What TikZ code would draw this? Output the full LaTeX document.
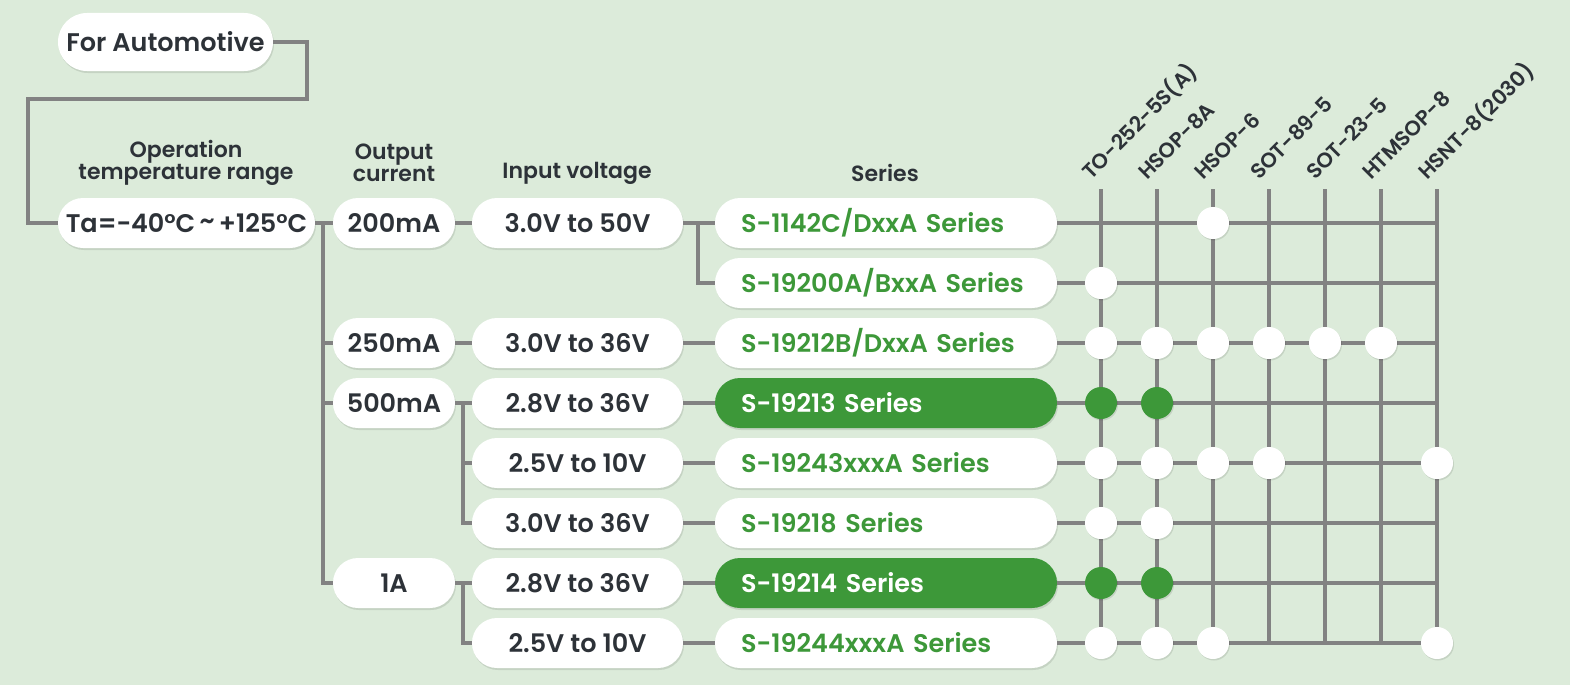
\documentclass[tikz,border=0pt]{standalone}
\usepackage{fontspec}
\setmainfont{Poppins}
\newfontfamily\semib{Poppins SemiBold}
\usetikzlibrary{shadows}
\definecolor{bg}{RGB}{220,235,218}
\definecolor{ln}{RGB}{130,130,130}
\definecolor{gr}{RGB}{61,152,57}
\definecolor{tx}{RGB}{45,50,56}
\tikzset{
  x=1pt,y=-1pt,
  pill/.style={fill=white, draw=none, rounded corners=25pt, minimum height=50pt, inner sep=0pt,
     font=\semib\fontsize{25.5}{28}\selectfont, text=tx,
     drop shadow={shadow xshift=1pt, shadow yshift=-2pt, opacity=0.10, fill=black}},
  serbox/.style={pill, minimum width=342pt, text=gr, align=left, text width=290pt},
  serg/.style={serbox, fill=gr, text=white},
  volt/.style={pill, minimum width=211pt},
  cur/.style={pill, minimum width=122pt},
  conn/.style={draw=ln, line width=3.5pt},
  hdr/.style={font=\semib\fontsize{22}{21}\selectfont, text=tx, align=center, inner sep=0pt},
  pkg/.style={font=\semib\fontsize{21}{22}\selectfont, text=tx, inner sep=0pt, rotate=45, anchor=base west},
  dotw/.style={circle, fill=white, minimum size=32pt, inner sep=0pt,
     drop shadow={shadow xshift=1pt, shadow yshift=-1.5pt, opacity=0.10, fill=black}},
  dotg/.style={dotw, fill=gr},
}
\begin{document}
\begin{tikzpicture}
\fill[bg] (0,0) rectangle (1570,685);
\useasboundingbox (0,0) rectangle (1570,685);

% headers
\node[hdr] (h1) at (186,163) {Operation\\temperature range};
\node[hdr] (h2) at (394,163) {Output\\current};
\node[hdr] (h3) at (577,173) {Input voltage};
\node[hdr] (h4) at (885,173) {Series};

% package labels
\foreach \i/\t in {0/TO-252-5S(A),1/HSOP-8A,2/HSOP-6,3/SOT-89-5,4/SOT-23-5,5/HTMSOP-8,6/HSNT-8(2030)}{
  \node[pkg] (p\i) at ({1091+56*\i},181) {\t};
}

% grid columns
\foreach \i in {0,...,6}{
  \coordinate (ct\i) at ({1101+56*\i},189);
  \coordinate (cb\i) at ({1101+56*\i},643);
  \draw[conn] (ct\i) -- (cb\i);
}

% boxes
\node[pill, minimum width=215pt, minimum height=58pt, rounded corners=29pt] (auto) at (165.5,42) {For Automotive};
\node[pill, minimum width=257pt] (ta) at (186.5,223) {Ta=−40°C\,\raisebox{0.12em}{\textasciitilde}\,+125°C};

\node[cur] (c1) at (394,223) {200mA};
\node[cur] (c2) at (394,343) {250mA};
\node[cur] (c3) at (394,403) {500mA};
\node[cur] (c4) at (394,583) {1A};

\node[volt] (v1) at (577.5,223) {3.0V to 50V};
\node[volt] (v3) at (577.5,343) {3.0V to 36V};
\node[volt] (v4) at (577.5,403) {2.8V to 36V};
\node[volt] (v5) at (577.5,463) {2.5V to 10V};
\node[volt] (v6) at (577.5,523) {3.0V to 36V};
\node[volt] (v7) at (577.5,583) {2.8V to 36V};
\node[volt] (v8) at (577.5,643) {2.5V to 10V};

\node[serbox] (s1) at (886,223) {S-1142C/DxxA Series};
\node[serbox] (s2) at (886,283) {S-19200A/BxxA Series};
\node[serbox] (s3) at (886,343) {S-19212B/DxxA Series};
\node[serg]   (s4) at (886,403) {S-19213 Series};
\node[serbox] (s5) at (886,463) {S-19243xxxA Series};
\node[serbox] (s6) at (886,523) {S-19218 Series};
\node[serg]   (s7) at (886,583) {S-19214 Series};
\node[serbox] (s8) at (886,643) {S-19244xxxA Series};

% connectors
\coordinate (ka) at (307,42);
\coordinate (kb) at (28,99);
\draw[conn] (auto.east) -- (ka) |- (kb) |- (ta.west);
\draw[conn] (ta.east) -- (c1.west);
\coordinate (b1) at (323,223);
\draw[conn] (b1) |- (c2.west);
\draw[conn] (b1) |- (c3.west);
\draw[conn] (b1) |- (c4.west);
\draw[conn] (c1.east) -- (v1.west);
\draw[conn] (c2.east) -- (v3.west);
\draw[conn] (c3.east) -- (v4.west);
\draw[conn] (c4.east) -- (v7.west);
\coordinate (b2) at (463,403);
\draw[conn] (b2) |- (v5.west);
\draw[conn] (b2) |- (v6.west);
\coordinate (b3) at (463,583);
\draw[conn] (b3) |- (v8.west);
\draw[conn] (v1.east) -- (s1.west);
\coordinate (b0) at (698,223);
\draw[conn] (b0) |- (s2.west);
\draw[conn] (v3.east) -- (s3.west);
\draw[conn] (v4.east) -- (s4.west);
\draw[conn] (v5.east) -- (s5.west);
\draw[conn] (v6.east) -- (s6.west);
\draw[conn] (v7.east) -- (s7.west);
\draw[conn] (v8.east) -- (s8.west);

% rows to grid
\foreach \r/\y in {1/223,2/283,3/343,4/403,5/463,6/523,7/583,8/643}{
  \coordinate (re\r) at (1437,\y);
  \draw[conn] (s\r.east) -- (re\r);
}

% dots
\foreach \r/\y/\cols in {1/223/{2},2/283/{0},3/343/{0,1,2,3,4,5},5/463/{0,1,2,3,6},6/523/{0,1},8/643/{0,1,2,6}}{
  \foreach \c in \cols { \node[dotw] (d\r-\c) at ({1101+56*\c},\y) {}; }
}
\foreach \r/\y in {4/403,7/583}{
  \foreach \c in {0,1} { \node[dotg] (d\r-\c) at ({1101+56*\c},\y) {}; }
}
\end{tikzpicture}
\end{document}
